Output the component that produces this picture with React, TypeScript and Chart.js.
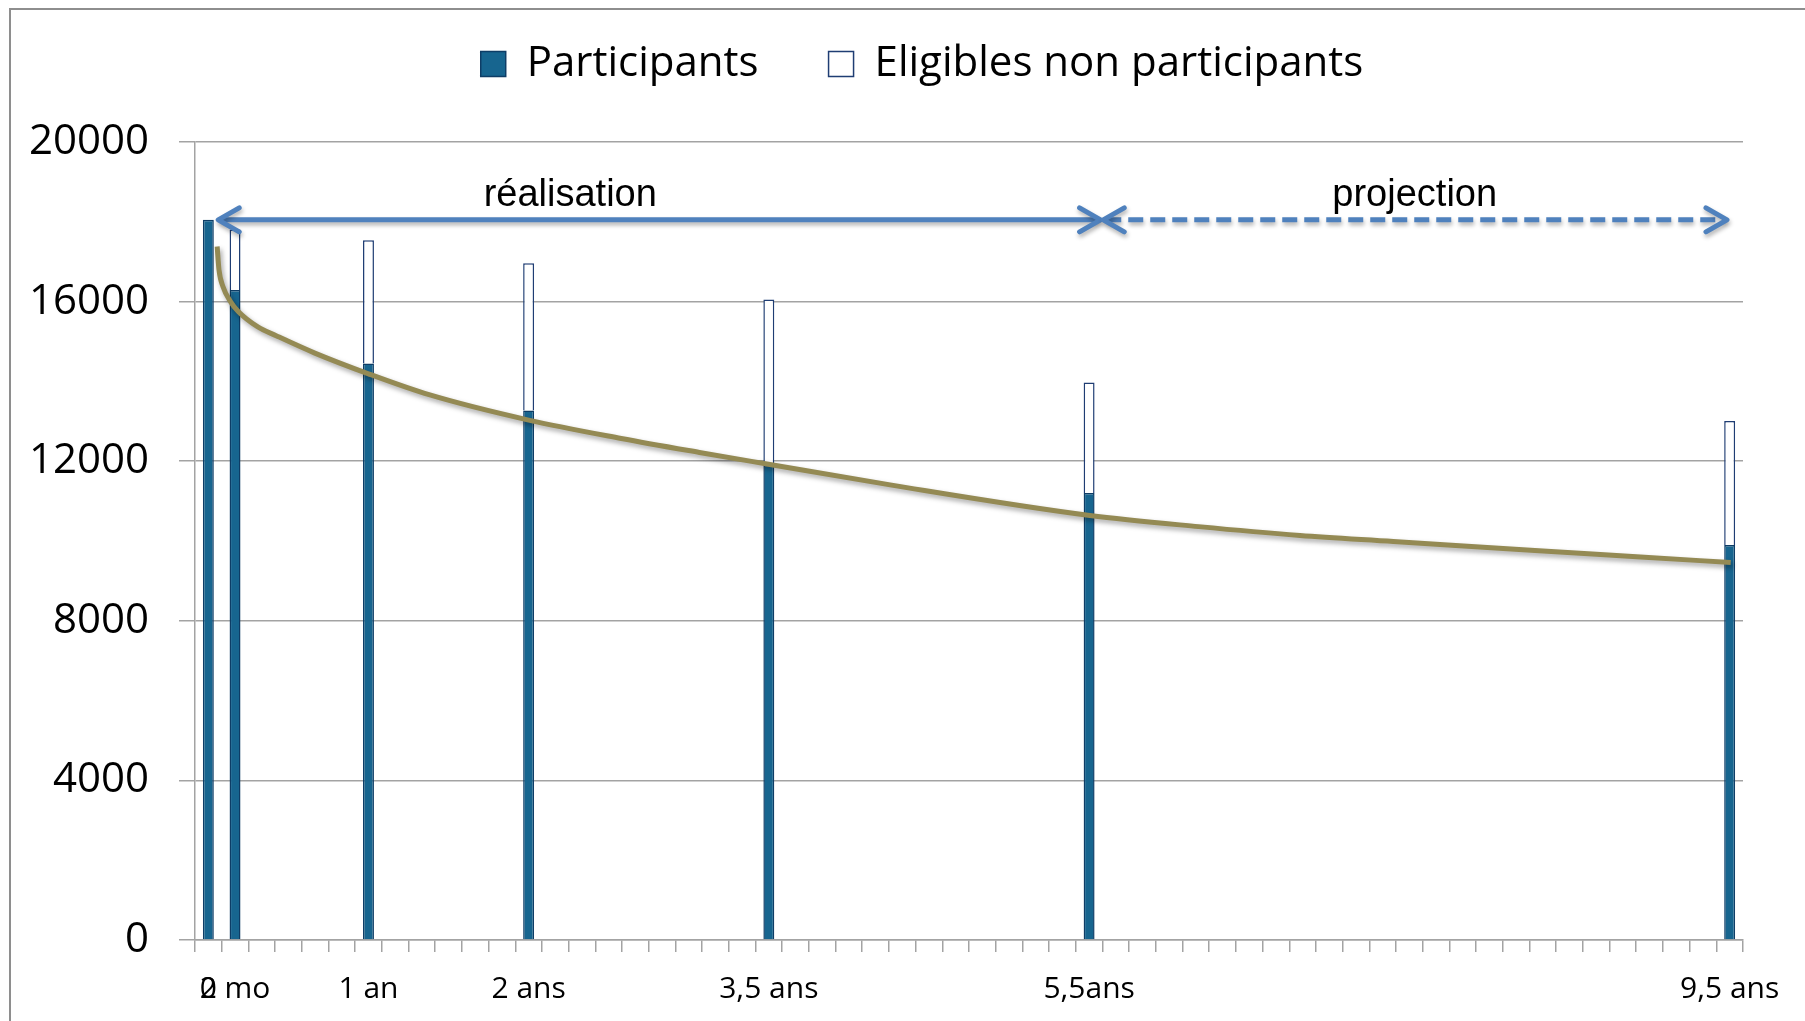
import { useEffect, useRef } from "react";
import { Chart, registerables } from "chart.js";

Chart.register(...registerables);

// ---- data ----
const categories = [
  "0", "2 mo", "", "", "", "", "1 an", "", "", "", "", "", "2 ans",
  "", "", "", "", "", "", "", "", "3,5 ans",
  "", "", "", "", "", "", "", "", "", "", "", "5,5ans",
  "", "", "", "", "", "", "", "", "", "", "", "", "", "", "", "", "", "", "", "", "", "", "",
  "9,5 ans",
];
const barCategories = ["0", "2 mo", "1 an", "2 ans", "3,5 ans", "5,5ans", "9,5 ans"];
const participants = [18050, 16290, 14450, 13270, 11900, 11200, 9900];
const eligiblesNonParticipants = [null, 1520, 3090, 3690, 4150, 2770, 3110];

// trend curve (x in category-index units)
const trendPosition = [0.33, 0.4, 0.55, 0.83, 1.12, 1.84, 2.56, 3.99, 6.0, 8.3, 12.0, 15.47, 18.4, 20.93, 25.6, 33.03, 37.1, 40.9, 44.4, 49.7, 53.66, 57.04];
const trendValue = [17380, 16790, 16370, 16000, 15750, 15370, 15140, 14710, 14190, 13660, 13030, 12570, 12220, 11930, 11400, 10640, 10360, 10140, 9990, 9760, 9600, 9460];

const yMin = 0;
const yMax = 20000;
const yStep = 4000;

const phaseLabels = ["réalisation", "projection"];
const phaseFrom = [0.37, 33.53];
const phaseTo = [33.43, 56.9];
const phaseTextAt = [13.56, 45.2];
const phaseDashed = [false, true];
const phaseArrowValue = 18050;
const phaseTextValue = 18390;

// ---- styles ----
const DARK = "#17658F";
const DARK_BORDER = "#0E3D66";
const NAVY = "#1F3D73";
const OLIVE = "#948A54";
const ARROW = "#4F81BD";
const GRID = "#a3a3a3";
const FONT = "'Open Sans', 'Noto Sans', sans-serif";

const pick = (vals: (number | null)[]) =>
  categories.map((c) => {
    const i = barCategories.indexOf(c);
    return i >= 0 ? vals[i] : null;
  });

const shadowPlugin = {
  id: "lineShadow",
  beforeDatasetDraw(chart: any, args: any) {
    if (args.meta.type === "line") {
      const ctx = chart.ctx;
      ctx.save();
      ctx.shadowColor = "rgba(0,0,0,0.35)";
      ctx.shadowBlur = 5;
      ctx.shadowOffsetX = 2;
      ctx.shadowOffsetY = 3;
    }
  },
  afterDatasetDraw(chart: any, args: any) {
    if (args.meta.type === "line") chart.ctx.restore();
  },
};

const legendPlacement = {
  id: "legendPlacement",
  beforeLayout(chart: any) {
    const lg = chart.legend;
    if (lg && !lg.__patched) {
      const orig = lg.fit.bind(lg);
      lg.fit = function () {
        orig();
        this.height = 142;
      };
      lg.__patched = true;
    }
  },
  afterLayout(chart: any) {
    const lg = chart.legend;
    if (!lg) return;
    const w = lg.right - lg.left;
    lg.left = 922 - w / 2;
    lg.right = lg.left + w;
    lg.top = -27;
    lg.bottom = lg.top + 142;
  },
};

const phasePlugin = {
  id: "phases",
  afterDatasetsDraw(chart: any) {
    const ctx = chart.ctx;
    const xs = chart.scales.xt;
    const ys = chart.scales.y;
    const y = ys.getPixelForValue(phaseArrowValue);
    ctx.save();
    ctx.shadowColor = "rgba(0,0,0,0.3)";
    ctx.shadowBlur = 4;
    ctx.shadowOffsetX = 1;
    ctx.shadowOffsetY = 3;
    ctx.strokeStyle = ARROW;
    ctx.lineWidth = 5;
    phaseLabels.forEach((_, i) => {
      const x1 = xs.getPixelForValue(phaseFrom[i]);
      const x2 = xs.getPixelForValue(phaseTo[i]);
      ctx.setLineDash(phaseDashed[i] ? [15, 7] : []);
      ctx.lineCap = "butt";
      ctx.beginPath();
      ctx.moveTo(x1 + 3, y);
      ctx.lineTo(x2 - 3, y);
      ctx.stroke();
      ctx.setLineDash([]);
      ctx.lineCap = "round";
      ctx.lineJoin = "round";
      ctx.beginPath();
      ctx.moveTo(x1 + 21, y - 12);
      ctx.lineTo(x1, y);
      ctx.lineTo(x1 + 21, y + 12);
      ctx.stroke();
      ctx.beginPath();
      ctx.moveTo(x2 - 21, y - 12);
      ctx.lineTo(x2, y);
      ctx.lineTo(x2 - 21, y + 12);
      ctx.stroke();
    });
    ctx.restore();
    ctx.save();
    ctx.fillStyle = "#000";
    ctx.font = "38px 'Liberation Sans Narrow', 'Arial Narrow', sans-serif";
    ctx.textAlign = "center";
    ctx.textBaseline = "alphabetic";
    const ty = ys.getPixelForValue(phaseTextValue);
    phaseLabels.forEach((t, i) => {
      ctx.fillText(t, xs.getPixelForValue(phaseTextAt[i]), ty);
    });
    ctx.restore();
  },
};

export default function App() {
  const ref = useRef<HTMLCanvasElement | null>(null);
  useEffect(() => {
    if (!ref.current) return;
    const chart = new Chart(ref.current, {
      type: "bar",
      data: {
        labels: categories,
        datasets: [
          {
            label: "Participants",
            data: pick(participants),
            backgroundColor: DARK,
            borderColor: DARK_BORDER,
            borderWidth: 1.5,
            grouped: false,
            categoryPercentage: 1,
            barPercentage: 0.41,
          } as any,
          {
            label: "Eligibles non participants",
            data: pick(eligiblesNonParticipants),
            backgroundColor: "#ffffff",
            borderColor: NAVY,
            borderWidth: 1.5,
            grouped: false,
            categoryPercentage: 1,
            barPercentage: 0.41,
          } as any,
          {
            type: "line",
            label: "trend",
            xAxisID: "xt",
            data: trendPosition.map((x, i) => ({ x, y: trendValue[i] })),
            borderColor: OLIVE,
            borderWidth: 5,
            pointRadius: 0,
            cubicInterpolationMode: "monotone",
            fill: false,
            order: -1,
          } as any,
        ],
      },
      options: {
        animation: false,
        responsive: false,
        devicePixelRatio: 1,
        layout: { padding: { left: 0, right: 62, top: 0, bottom: 0 } },
        plugins: {
          tooltip: { enabled: false },
          legend: {
            display: true,
            position: "top",
            labels: {
              boxWidth: 25,
              boxHeight: 25,
              padding: 70,
              color: "#000",
              font: { family: FONT, size: 42 },
              filter: (item: any) => item.datasetIndex !== 2,
            },
          },
        },
        scales: {
          x: {
            type: "category",
            stacked: true,
            offset: true,
            border: { display: true, color: GRID, width: 1.5 },
            grid: {
              offset: true,
              drawOnChartArea: false,
              drawTicks: true,
              tickLength: 12,
              color: GRID,
              lineWidth: 1.5,
            },
            ticks: {
              autoSkip: false,
              maxRotation: 0,
              minRotation: 0,
              color: "#000",
              padding: 19,
              font: { family: FONT, size: 30 },
            },
            afterFit: (s: any) => {
              s.height = 81;
            },
          },
          xt: {
            type: "linear",
            axis: "x",
            position: "bottom",
            display: false,
            offset: false,
            bounds: "data",
            grid: { offset: false },
            min: -0.5,
            max: 57.5,
          },
          y: {
            stacked: true,
            min: yMin,
            max: yMax,
            border: { display: true, color: GRID, width: 1.5 },
            grid: { color: GRID, lineWidth: 1.5, tickLength: 16 },
            ticks: {
              stepSize: yStep,
              color: "#000",
              padding: 30,
              font: { family: FONT, size: 42 },
              callback: (v: any) => String(v),
            },
            afterFit: (s: any) => {
              s.width = 195;
            },
          },
        },
      } as any,
      plugins: [shadowPlugin, legendPlacement, phasePlugin],
    });
    return () => chart.destroy();
  }, []);

  return (
    <div style={{ position: "fixed", left: 0, top: 0, width: 1805, height: 1021, background: "#fff", overflow: "hidden" }}>
      <div
        style={{
          position: "absolute",
          left: 9,
          top: 8,
          right: -10,
          bottom: -10,
          borderLeft: "2px solid #8e8e8e",
          borderTop: "2px solid #8e8e8e",
        }}
      />
      <canvas ref={ref} width={1805} height={1021} style={{ position: "absolute", left: 0, top: 0, width: 1805, height: 1021 }} />
    </div>
  );
}
